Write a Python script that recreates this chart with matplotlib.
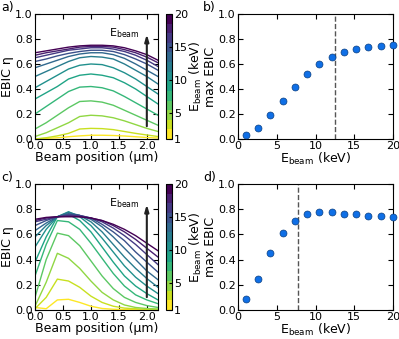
import numpy as np
import matplotlib
matplotlib.use("Agg")
import matplotlib.pyplot as plt
from matplotlib.colors import Normalize
from matplotlib.cm import ScalarMappable

plt.rcParams['font.family'] = ['DejaVu Sans']
plt.rcParams['xtick.direction'] = 'in'
plt.rcParams['ytick.direction'] = 'in'
plt.rcParams['xtick.top'] = True
plt.rcParams['ytick.right'] = True
plt.rcParams['xtick.major.pad'] = 1.5
plt.rcParams['ytick.major.pad'] = 1.5
plt.rcParams['font.size'] = 8

energies = np.linspace(1, 20, 13)
position = np.linspace(0, 2.2, 12)

# EBIC profiles, one row per beam energy (low -> high)
ebic_a = [
    [0.00, 0.005, 0.01, 0.018, 0.025, 0.030, 0.030, 0.028, 0.024, 0.018, 0.012, 0.008],
    [0.00, 0.010, 0.025, 0.045, 0.080, 0.085, 0.083, 0.075, 0.060, 0.045, 0.032, 0.020],
    [0.02, 0.050, 0.090, 0.130, 0.180, 0.190, 0.185, 0.170, 0.145, 0.115, 0.085, 0.060],
    [0.08, 0.130, 0.190, 0.250, 0.300, 0.305, 0.295, 0.270, 0.230, 0.190, 0.150, 0.110],
    [0.20, 0.260, 0.320, 0.380, 0.415, 0.420, 0.410, 0.385, 0.340, 0.290, 0.240, 0.190],
    [0.32, 0.370, 0.420, 0.480, 0.510, 0.520, 0.510, 0.490, 0.450, 0.400, 0.340, 0.280],
    [0.41, 0.460, 0.510, 0.560, 0.590, 0.600, 0.595, 0.570, 0.530, 0.480, 0.420, 0.360],
    [0.50, 0.540, 0.580, 0.620, 0.650, 0.660, 0.655, 0.640, 0.600, 0.550, 0.500, 0.440],
    [0.57, 0.600, 0.630, 0.660, 0.680, 0.690, 0.690, 0.675, 0.645, 0.600, 0.550, 0.500],
    [0.62, 0.640, 0.665, 0.685, 0.700, 0.710, 0.710, 0.700, 0.675, 0.640, 0.600, 0.550],
    [0.65, 0.670, 0.690, 0.710, 0.720, 0.730, 0.730, 0.720, 0.700, 0.670, 0.630, 0.580],
    [0.67, 0.690, 0.705, 0.720, 0.735, 0.740, 0.740, 0.735, 0.715, 0.690, 0.655, 0.610],
    [0.69, 0.705, 0.720, 0.735, 0.745, 0.750, 0.750, 0.745, 0.730, 0.705, 0.675, 0.630],
]
ebic_c = [
    [0.02, 0.01, 0.08, 0.085, 0.06, 0.03, 0.012, 0.006, 0.003, 0.002, 0.001, 0.00],
    [0.01, 0.10, 0.245, 0.23, 0.18, 0.11, 0.06, 0.03, 0.015, 0.01, 0.005, 0.003],
    [0.03, 0.22, 0.45, 0.41, 0.33, 0.23, 0.14, 0.08, 0.04, 0.02, 0.012, 0.008],
    [0.10, 0.40, 0.61, 0.59, 0.51, 0.39, 0.27, 0.17, 0.10, 0.06, 0.035, 0.02],
    [0.27, 0.52, 0.71, 0.70, 0.64, 0.53, 0.41, 0.29, 0.19, 0.12, 0.08, 0.05],
    [0.38, 0.58, 0.74, 0.76, 0.71, 0.62, 0.50, 0.38, 0.27, 0.19, 0.13, 0.08],
    [0.50, 0.64, 0.74, 0.78, 0.74, 0.67, 0.57, 0.46, 0.35, 0.26, 0.19, 0.13],
    [0.58, 0.67, 0.74, 0.775, 0.75, 0.70, 0.62, 0.52, 0.42, 0.33, 0.25, 0.18],
    [0.63, 0.69, 0.74, 0.765, 0.75, 0.72, 0.66, 0.58, 0.49, 0.40, 0.31, 0.24],
    [0.67, 0.71, 0.74, 0.76, 0.75, 0.73, 0.68, 0.62, 0.55, 0.46, 0.38, 0.30],
    [0.70, 0.72, 0.74, 0.75, 0.75, 0.73, 0.70, 0.65, 0.59, 0.52, 0.44, 0.36],
    [0.71, 0.73, 0.74, 0.745, 0.74, 0.73, 0.71, 0.67, 0.62, 0.56, 0.49, 0.42],
    [0.72, 0.735, 0.74, 0.74, 0.74, 0.73, 0.71, 0.68, 0.64, 0.59, 0.53, 0.47],
]
max_b = [0.035, 0.09, 0.19, 0.305, 0.42, 0.52, 0.60, 0.66, 0.695, 0.72, 0.735, 0.745, 0.75]
max_d = [0.09, 0.245, 0.45, 0.615, 0.71, 0.76, 0.78, 0.775, 0.765, 0.76, 0.75, 0.745, 0.74]
cutoff_b = 12.5
cutoff_d = 7.8

cmap = plt.get_cmap('viridis_r', 13)
norm = Normalize(1, 20)

fig = plt.figure(figsize=(3.99, 3.39), dpi=100)

W, H = 399.0, 339.0
def box(l, t, r, b):
    return [l / W, 1 - b / H, (r - l) / W, (b - t) / H]

rows = [(14, 139, ebic_a, max_b, cutoff_b, 'a)', 'b)'),
        (184, 310, ebic_c, max_d, cutoff_d, 'c)', 'd)')]

for top, bot, curves, maxes, cut, lab1, lab2 in rows:
    ax = fig.add_axes(box(35, top, 158, bot))
    for i, e in enumerate(energies):
        ax.plot(position, curves[i], color=cmap(norm(e)), lw=1)
    ax.set_xlim(0, 2.2)
    ax.set_ylim(0, 1)
    ax.set_xticks([0, 0.5, 1.0, 1.5, 2.0])
    ax.set_yticks(np.arange(0, 1.01, 0.2))
    ax.set_xlabel('Beam position (µm)', fontsize=9, labelpad=0)
    ax.set_ylabel('EBIC η', fontsize=9, labelpad=1)
    ax.annotate('', xy=(2.0, 0.86), xytext=(2.0, 0.08),
                arrowprops=dict(arrowstyle='-|>,head_width=0.15,head_length=0.5',
                                color='#222222', lw=1.5))
    ax.text(1.88, 0.79, 'E$_{\\mathrm{beam}}$', ha='right', va='bottom', fontsize=8)

    cax = fig.add_axes(box(166, top, 172, bot))
    cb = fig.colorbar(ScalarMappable(norm=norm, cmap=cmap), cax=cax)
    cb.set_ticks([1, 5, 10, 15, 20])
    cb.ax.tick_params(direction='in', length=2, pad=1.5)
    cb.set_label('E$_{\\mathrm{beam}}$ (keV)', fontsize=9, labelpad=0)

    bx = fig.add_axes(box(238, top, 393, bot))
    bx.plot(energies, maxes, 'o', color='#0f6fe6', mec='#0b3f80', ms=5, mew=0.5,
            clip_on=False, zorder=3)
    bx.axvline(cut, color='#555555', ls='--', lw=1)
    bx.set_xlim(0, 20)
    bx.set_ylim(0, 1)
    bx.set_xticks([0, 5, 10, 15, 20])
    bx.set_yticks(np.arange(0, 1.01, 0.2))
    bx.set_xlabel('E$_{\\mathrm{beam}}$ (keV)', fontsize=9, labelpad=0)
    bx.set_ylabel('max EBIC', fontsize=9, labelpad=1)

    fig.text(1 / W, 1 - (top - 13) / H, lab1, fontsize=9, va='top')
    fig.text(203 / W, 1 - (top - 13) / H, lab2, fontsize=9, va='top')

fig.savefig('out.png', dpi=100)
